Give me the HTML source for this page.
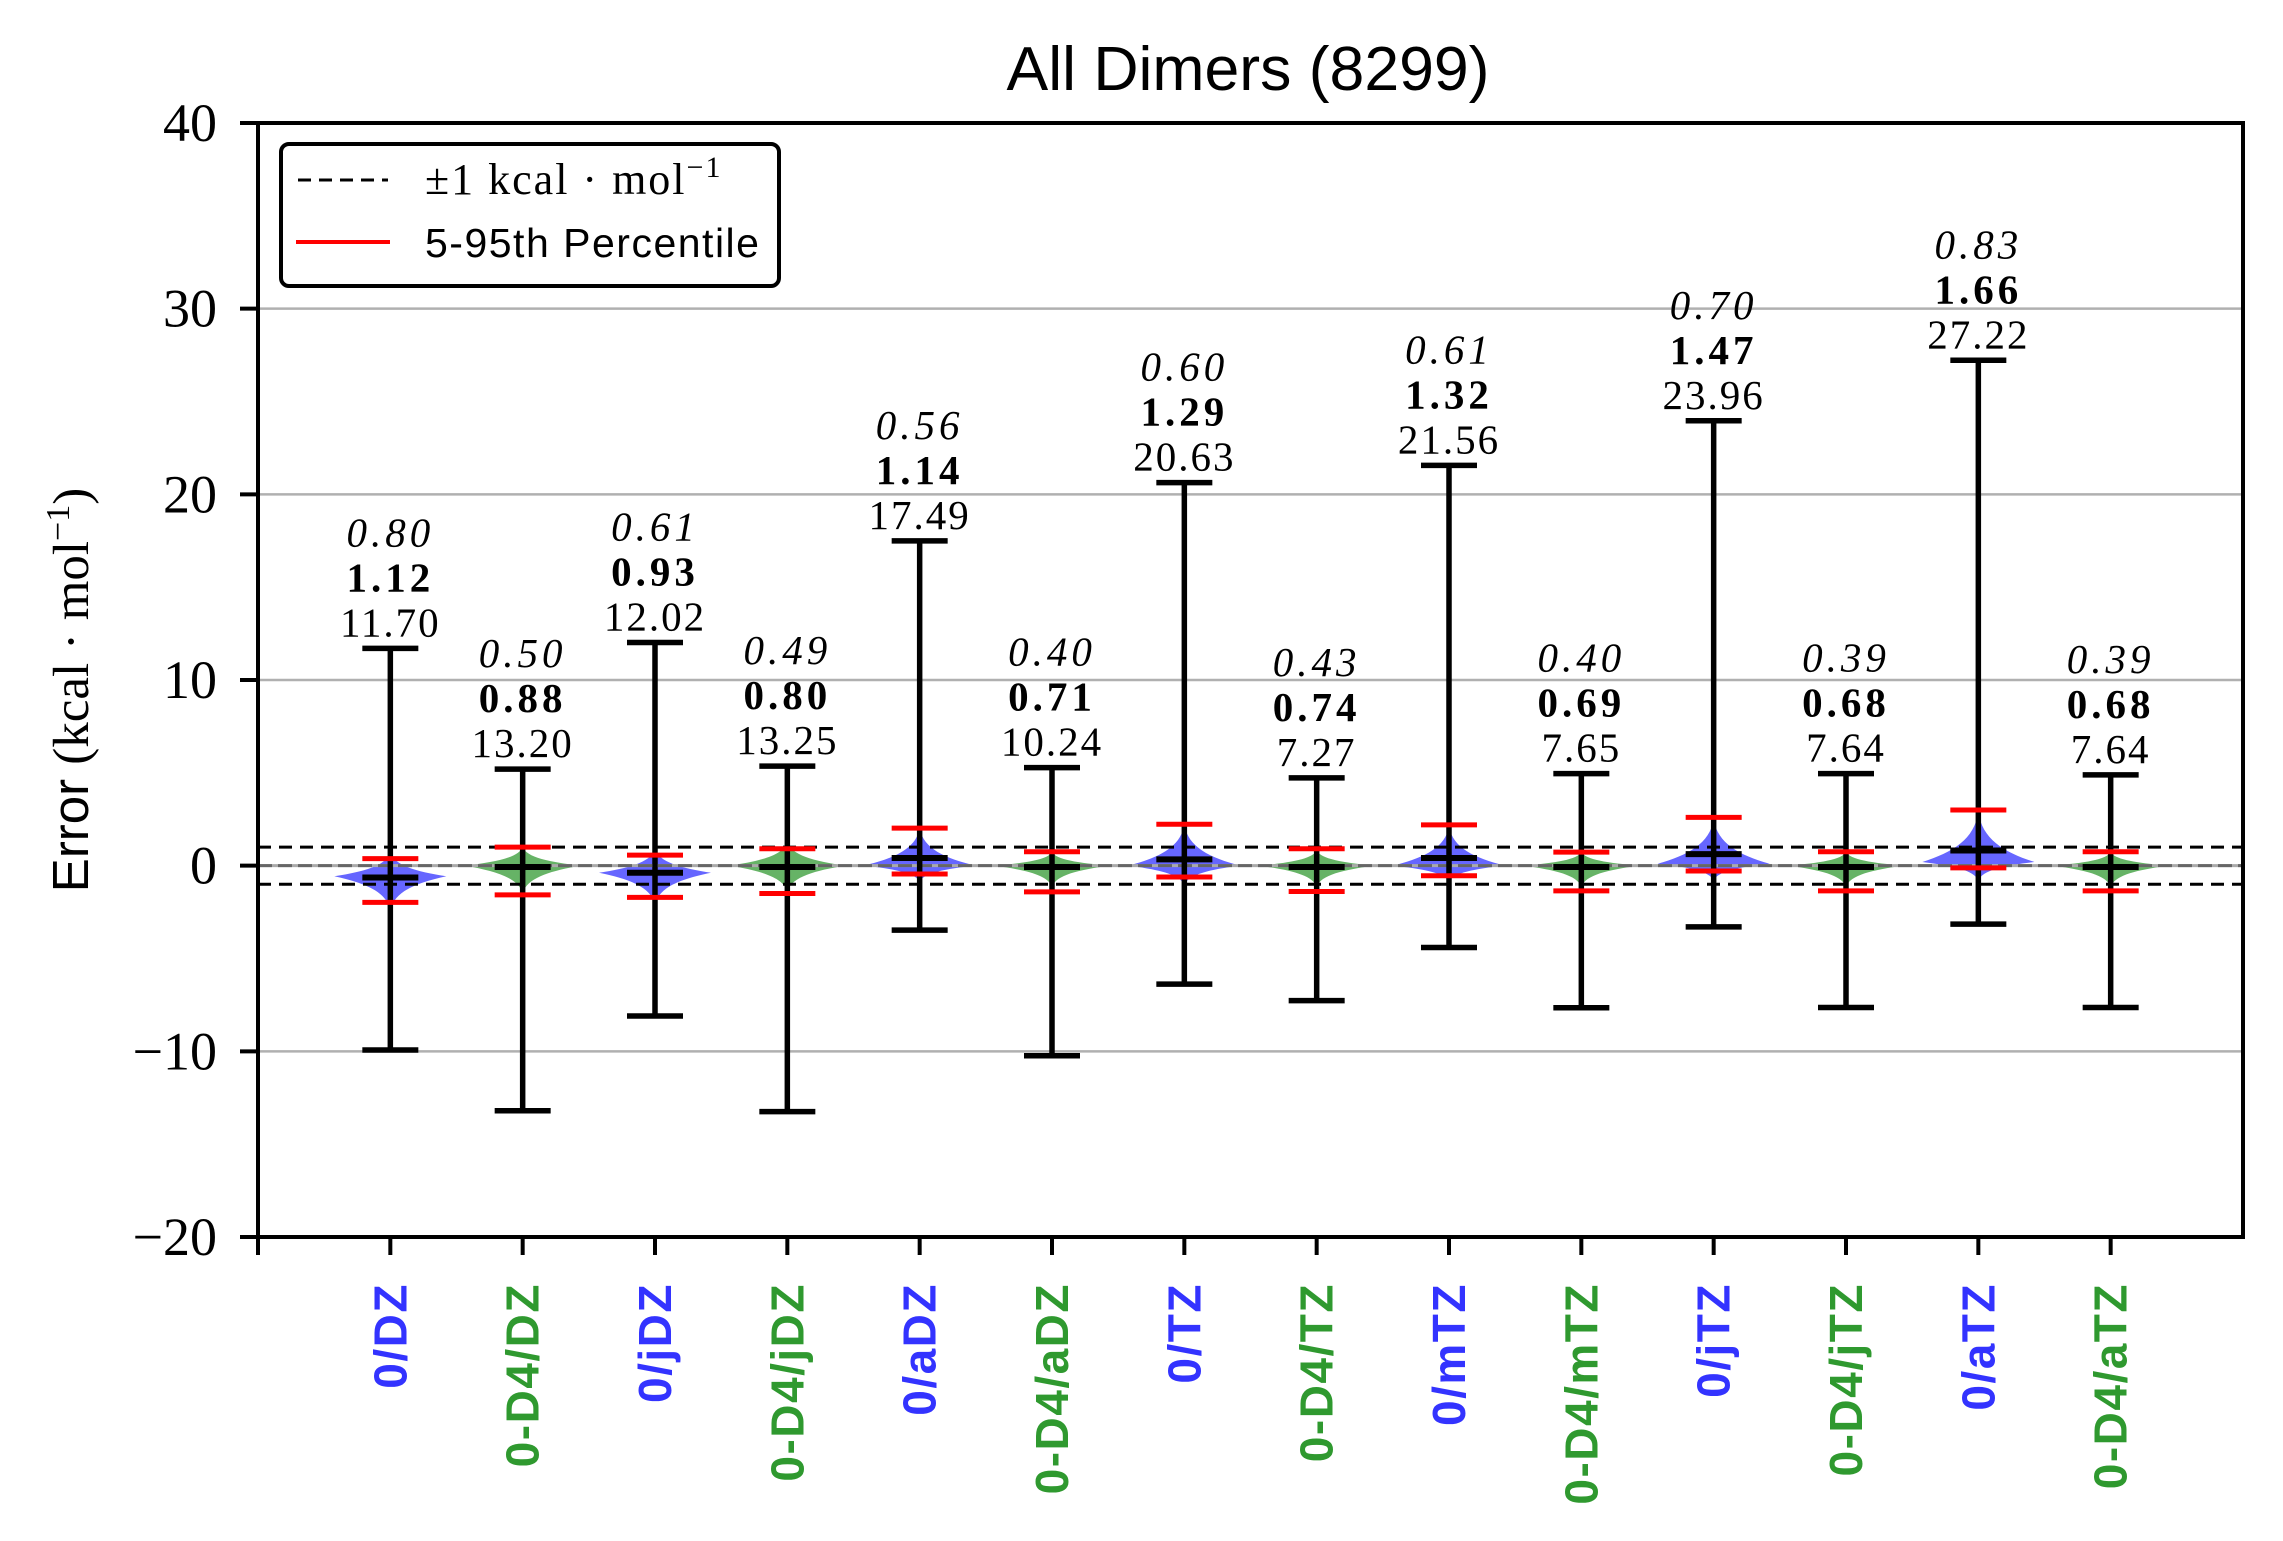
<!DOCTYPE html>
<html><head><meta charset="utf-8">
<style>
html,body{margin:0;padding:0;background:#fff;}
svg{display:block;}
.tick{font-family:"Liberation Serif",serif;font-size:54px;fill:#000;}
.ann{font-family:"Liberation Serif",serif;font-size:41px;fill:#000;}
.xl{font-family:"Liberation Sans",sans-serif;font-size:46px;font-weight:bold;letter-spacing:1.5px;}
</style></head>
<body>
<svg id="chart" width="2283" height="1541" viewBox="0 0 2283 1541" xmlns="http://www.w3.org/2000/svg">
<rect width="2283" height="1541" fill="#fff"/>
<g id="grid"></g>
<g id="violins"></g>
<g id="refs"></g>
<g id="marks"></g>
<g id="annots"></g>
<g id="axes"></g>
<text x="1248" y="90" text-anchor="middle" font-family="Liberation Sans, sans-serif" font-size="62" textLength="483" lengthAdjust="spacingAndGlyphs">All Dimers (8299)</text>
<text transform="translate(88,690) rotate(-90)" text-anchor="middle" font-size="51"><tspan font-family="Liberation Sans, sans-serif">Error </tspan><tspan font-family="Liberation Serif, serif">(kcal · mol</tspan><tspan font-family="Liberation Serif, serif" font-size="34" dy="-19">−1</tspan><tspan font-family="Liberation Serif, serif" dy="19">)</tspan></text>
<g>
<rect x="281" y="144" width="498" height="142" rx="8" fill="#fff" stroke="#000" stroke-width="4"/>
<line x1="298" y1="180" x2="388" y2="180" stroke="#000" stroke-width="3" stroke-dasharray="13,8"/>
<text x="425" y="194" font-family="Liberation Serif, serif" font-size="44" letter-spacing="2">±1 kcal · mol<tspan font-size="30" dy="-17">−1</tspan></text>
<line x1="296" y1="242" x2="390" y2="242" stroke="#ff0000" stroke-width="4"/>
<text x="425" y="257" font-family="Liberation Sans, sans-serif" font-size="41" letter-spacing="1.5">5-95th Percentile</text>
</g>
</svg>
<script>
const categories = ["0/DZ","0-D4/DZ","0/jDZ","0-D4/jDZ","0/aDZ","0-D4/aDZ","0/TZ","0-D4/TZ","0/mTZ","0-D4/mTZ","0/jTZ","0-D4/jTZ","0/aTZ","0-D4/aTZ"];
const maxVals = [11.70,5.20,12.02,5.36,17.49,5.28,20.63,4.73,21.56,4.96,23.96,4.96,27.22,4.89];
const minVals = [-9.93,-13.20,-8.10,-13.25,-3.47,-10.24,-6.38,-7.27,-4.41,-7.65,-3.30,-7.64,-3.15,-7.64];
const meanVals = [-0.64,-0.07,-0.38,-0.07,0.41,-0.07,0.34,-0.07,0.41,-0.07,0.62,-0.07,0.82,-0.07];
const p95 = [0.38,1.00,0.57,0.91,2.02,0.75,2.23,0.91,2.20,0.73,2.60,0.75,3.00,0.75];
const p5 = [-1.98,-1.57,-1.71,-1.50,-0.45,-1.41,-0.61,-1.39,-0.54,-1.36,-0.29,-1.36,-0.12,-1.36];
const violinTop = [0.73,1.00,0.90,1.27,2.00,0.73,2.20,0.82,2.10,0.73,2.50,0.73,2.90,0.73];
const violinBot = [-2.40,-1.50,-2.10,-1.40,-0.87,-1.14,-1.05,-1.14,-0.87,-1.14,-0.80,-1.14,-0.80,-1.14];
const violinMid = [-0.57,0,-0.38,0,0,0,0,0,0,0,0.1,0,0.2,0];
const maeVals = ["0.80","0.50","0.61","0.49","0.56","0.40","0.60","0.43","0.61","0.40","0.70","0.39","0.83","0.39"];
const rmseVals = ["1.12","0.88","0.93","0.80","1.14","0.71","1.29","0.74","1.32","0.69","1.47","0.68","1.66","0.68"];
const maxAbsVals = ["11.70","13.20","12.02","13.25","17.49","10.24","20.63","7.27","21.56","7.65","23.96","7.64","27.22","7.64"];
const yTicks = [-20,-10,0,10,20,30,40];
const gridVals = [-10,10,20,30];

const L=258,R=2243,T=123,B=1237,NS="http://www.w3.org/2000/svg";
function X(i){return L+(i+1)*(R-L)/15;}
function Y(v){return T+(40-v)*(B-T)/60;}
function mk(tag,attrs,parent){const e=document.createElementNS(NS,tag);for(const k in attrs)e.setAttribute(k,attrs[k]);parent.appendChild(e);return e;}
const grid=document.getElementById('grid'),vio=document.getElementById('violins'),refs=document.getElementById('refs'),marks=document.getElementById('marks'),ann=document.getElementById('annots'),axes=document.getElementById('axes');

gridVals.forEach(v=>{const e=mk('line',{x1:L,x2:R,y1:Y(v),y2:Y(v),stroke:'#b0b0b0','stroke-width':2.5},grid);

});

categories.forEach((c,i)=>{
  const x=X(i),w=(i%2===0)?56:58,t=Y(violinTop[i]),b=Y(violinBot[i]),m=Y(violinMid[i]);
  const d=`M${x},${t} C${x+4},${t+(m-t)*0.55} ${x+w*0.45},${m-(m-t)*0.2} ${x+w},${m} C${x+w*0.45},${m+(b-m)*0.2} ${x+4},${b-(b-m)*0.55} ${x},${b} C${x-4},${b-(b-m)*0.55} ${x-w*0.45},${m+(b-m)*0.2} ${x-w},${m} C${x-w*0.45},${m-(m-t)*0.2} ${x-4},${t+(m-t)*0.55} ${x},${t} Z`;
  const p=mk('path',{d:d,fill:(i%2===0)?'#6666ff':'#66b366'},vio);
  
  
});

const z=mk('line',{x1:L,x2:R,y1:Y(0),y2:Y(0),stroke:'#aaaaaa','stroke-width':3},refs);


const z2=mk('line',{x1:L,x2:R,y1:Y(0),y2:Y(0),stroke:'#666666','stroke-width':3,'stroke-dasharray':'14,6'},refs);


[1,-1].forEach(v=>{const e=mk('line',{x1:L,x2:R,y1:Y(v),y2:Y(v),stroke:'#000','stroke-width':3,'stroke-dasharray':'13,8'},refs);

});

categories.forEach((c,i)=>{
  const x=X(i),hw=28;
  const g=mk('g',{},marks);
  
  
  mk('line',{x1:x,x2:x,y1:Y(maxVals[i]),y2:Y(minVals[i]),stroke:'#000','stroke-width':5.5},g);
  mk('line',{x1:x-hw,x2:x+hw,y1:Y(maxVals[i]),y2:Y(maxVals[i]),stroke:'#000','stroke-width':5.5},g);
  mk('line',{x1:x-hw,x2:x+hw,y1:Y(minVals[i]),y2:Y(minVals[i]),stroke:'#000','stroke-width':5.5},g);
  mk('line',{x1:x-hw,x2:x+hw,y1:Y(meanVals[i]),y2:Y(meanVals[i]),stroke:'#000','stroke-width':6},g);
  mk('line',{x1:x-hw,x2:x+hw,y1:Y(p95[i]),y2:Y(p95[i]),stroke:'#ff0000','stroke-width':5},g);
  mk('line',{x1:x-hw,x2:x+hw,y1:Y(p5[i]),y2:Y(p5[i]),stroke:'#ff0000','stroke-width':5},g);
  const by=Y(maxVals[i])-12;
  const a1=mk('text',{x:x,y:by,'text-anchor':'middle',class:'ann','letter-spacing':'2'},ann);a1.textContent=maxAbsVals[i];
  
  
  const a2=mk('text',{x:x,y:by-45,'text-anchor':'middle',class:'ann','font-weight':'bold','letter-spacing':'4'},ann);a2.textContent=rmseVals[i];
  
  
  const a3=mk('text',{x:x,y:by-90,'text-anchor':'middle',class:'ann','font-style':'italic','letter-spacing':'4'},ann);a3.textContent=maeVals[i];
  
  
  const tk=mk('line',{x1:x,x2:x,y1:B,y2:B+18,stroke:'#000','stroke-width':4},axes);
  
  
  const xl=mk('text',{transform:`translate(${x+16},1283) rotate(-90)`,'text-anchor':'end',class:'xl',fill:(i%2===0)?'#3333ff':'#2f992f'},axes);
  xl.textContent=c;
  
  
});

const fr=mk('rect',{x:L,y:T,width:R-L,height:B-T,fill:'none',stroke:'#000','stroke-width':4},axes);


const t0=mk('line',{x1:L,x2:L,y1:B,y2:B+18,stroke:'#000','stroke-width':4},axes);


yTicks.forEach(v=>{
  const tk=mk('line',{x1:L-18,x2:L,y1:Y(v),y2:Y(v),stroke:'#000','stroke-width':4},axes);
  
  
  const tl=mk('text',{x:217,y:Y(v)+18,'text-anchor':'end',class:'tick'},axes);
  tl.textContent=(v<0?'−':'')+Math.abs(v);
  
  
});
</script>
</body></html>
